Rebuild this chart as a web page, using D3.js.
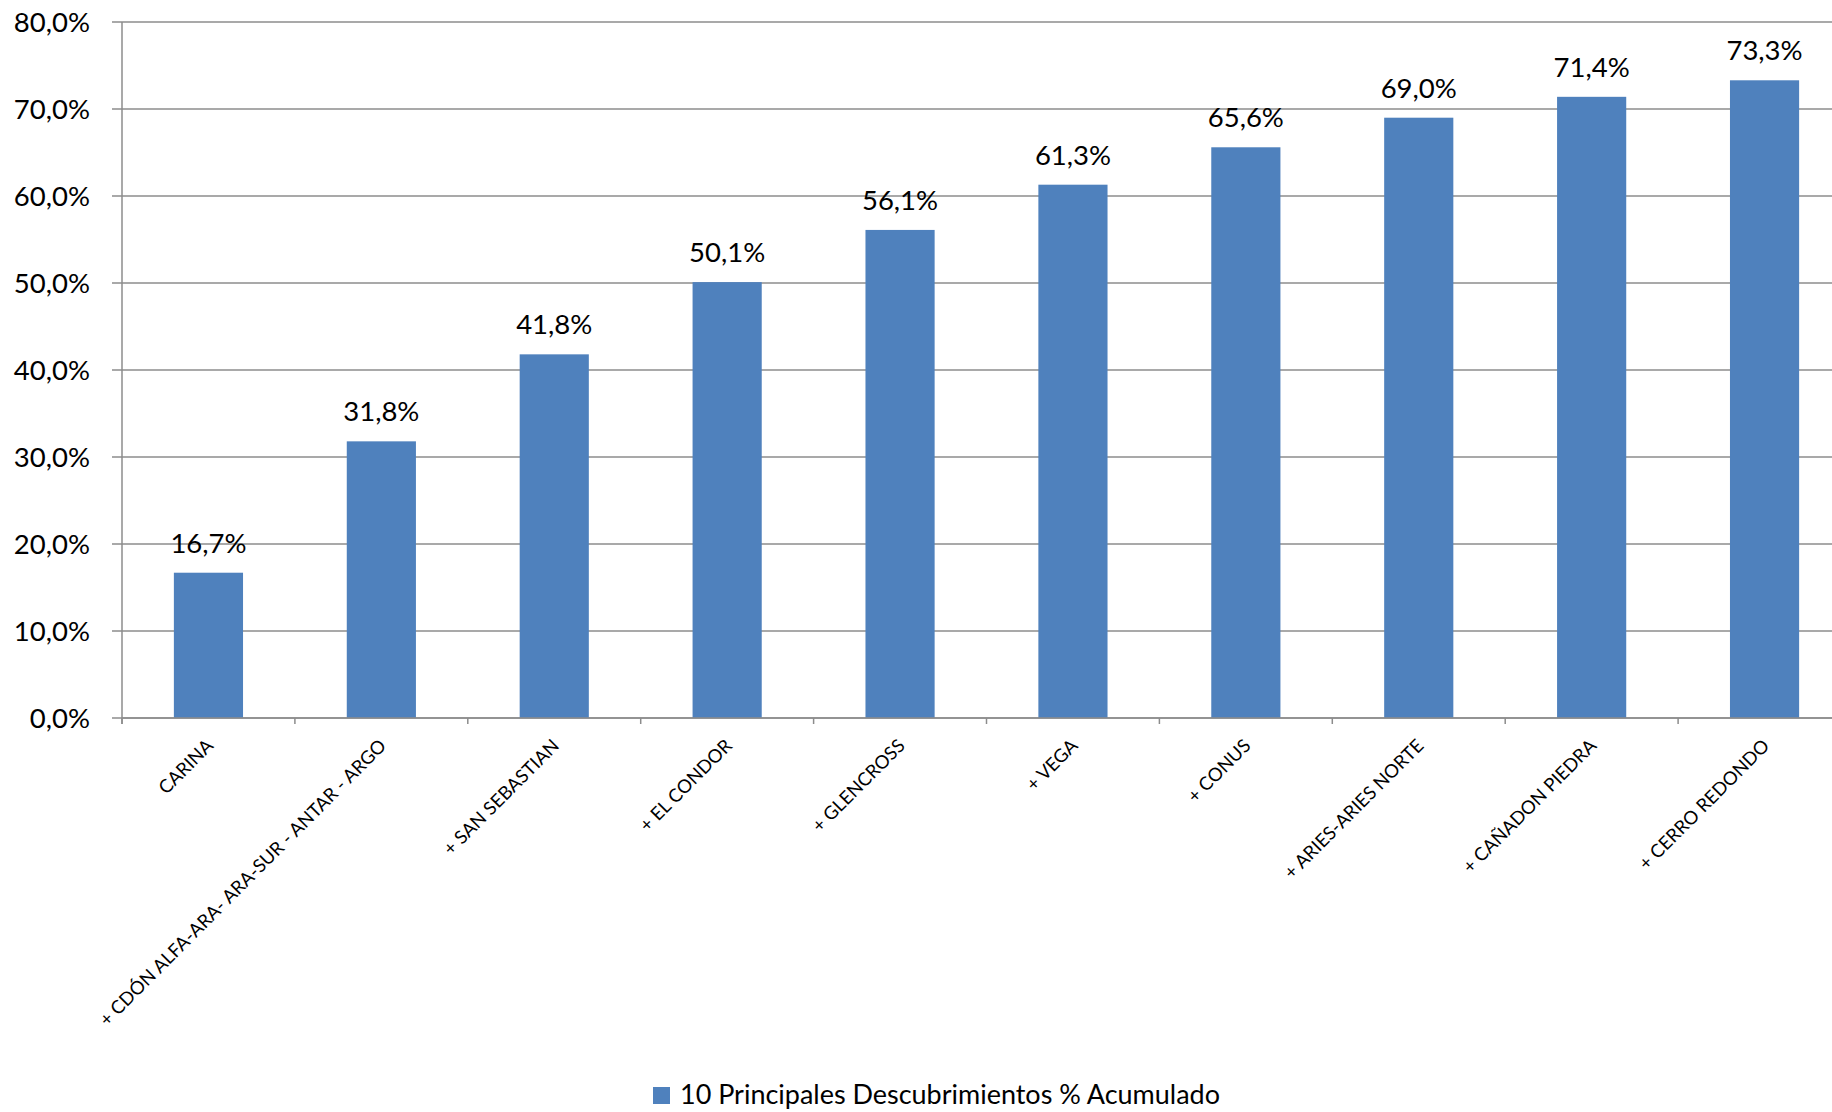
<!DOCTYPE html>
<html>
<head>
<meta charset="utf-8">
<script src="https://cdn.jsdelivr.net/npm/d3@7"></script>
<style>
  body { margin: 0; background: #fff; }
  text { font-family: Lato, "Open Sans", sans-serif; fill: #000; }
</style>
</head>
<body>
<svg id="chart" width="1832" height="1112"></svg>
<script>
// categorias y % acumulado
var categories = ["CARINA", "+ CDÓN ALFA-ARA- ARA-SUR - ANTAR - ARGO", "+ SAN SEBASTIAN", "+ EL CONDOR",
  "+ GLENCROSS", "+ VEGA", "+ CONUS", "+ ARIES-ARIES NORTE", "+ CAÑADON PIEDRA", "+ CERRO REDONDO"];
var values = [16.7, 31.8, 41.8, 50.1, 56.1, 61.3, 65.6, 69.0, 71.4, 73.3];
var yTicks = [0, 10, 20, 30, 40, 50, 60, 70, 80];
var seriesName = "10 Principales Descubrimientos % Acumulado";

var svg = d3.select("#chart");
// el area de trazado sigue un poco mas alla del borde derecho
var plotLeft = 122, plotRight = 1851, plotTop = 22, plotBottom = 718;

var loc = d3.formatLocale({decimal: ",", thousands: ".", grouping: [3], currency: ["", "€"]});
var fmt = function(v) { return loc.format(".1f")(v) + "%"; };

var x = d3.scaleBand().domain(categories).range([plotLeft, plotRight]).paddingInner(0.6).paddingOuter(0.3);
var y = d3.scaleLinear().domain([0, 80]).range([plotBottom, plotTop]);

// gridlines
svg.append("g").selectAll("line").data(yTicks).enter().append("line")
  .attr("x1", plotLeft - 10).attr("x2", 1832)
  .attr("y1", function(d) { return y(d); }).attr("y2", function(d) { return y(d); })
  .attr("stroke", "#8c8c8c").attr("stroke-width", 1.5);

// y axis line
svg.append("line").attr("x1", plotLeft).attr("x2", plotLeft).attr("y1", plotTop).attr("y2", plotBottom + 6)
  .attr("stroke", "#8c8c8c").attr("stroke-width", 1.5);

// y labels
svg.append("g").selectAll("text").data(yTicks).enter().append("text")
  .attr("x", 90).attr("y", function(d) { return y(d); })
  .attr("dy", "0.36em").attr("text-anchor", "end").attr("font-size", 27.5)
  .text(fmt);

// bars
svg.append("g").selectAll("rect").data(values).enter().append("rect")
  .attr("x", function(d, i) { return x(categories[i]); })
  .attr("width", x.bandwidth())
  .attr("y", function(d) { return y(d); })
  .attr("height", function(d) { return y(0) - y(d); })
  .attr("fill", "#4f81bd");

// x axis + ticks
svg.append("line").attr("x1", plotLeft).attr("x2", 1832).attr("y1", plotBottom).attr("y2", plotBottom)
  .attr("stroke", "#8c8c8c").attr("stroke-width", 1.5);
var step = x.step();
svg.append("g").selectAll("line").data(d3.range(categories.length + 1)).enter().append("line")
  .attr("x1", function(i) { return plotLeft + i * step; }).attr("x2", function(i) { return plotLeft + i * step; })
  .attr("y1", plotBottom).attr("y2", plotBottom + 6)
  .attr("stroke", "#8c8c8c").attr("stroke-width", 1.5);

// data labels
svg.append("g").selectAll("text").data(values).enter().append("text")
  .attr("x", function(d, i) { return x(categories[i]) + x.bandwidth() / 2; })
  .attr("y", function(d) { return y(d) - 20; })
  .attr("text-anchor", "middle").attr("font-size", 27.5)
  .text(fmt);

// category labels
svg.append("g").selectAll("text").data(categories).enter().append("text")
  .attr("transform", function(d) {
    var cx = x(d) + x.bandwidth() / 2;
    return "translate(" + (cx + 6) + "," + (plotBottom + 29) + ") rotate(-45)";
  })
  .attr("text-anchor", "end").attr("font-size", 18.5)
  .text(function(d) { return d; });

// legend
var lg = svg.append("g").attr("transform", "translate(653,1087)");
lg.append("rect").attr("width", 17).attr("height", 17).attr("fill", "#4f81bd");
lg.append("text").attr("x", 27).attr("y", 17).attr("font-size", 26)
  .attr("textLength", 540).attr("lengthAdjust", "spacingAndGlyphs")
  .text(seriesName);
</script>
</body>
</html>
